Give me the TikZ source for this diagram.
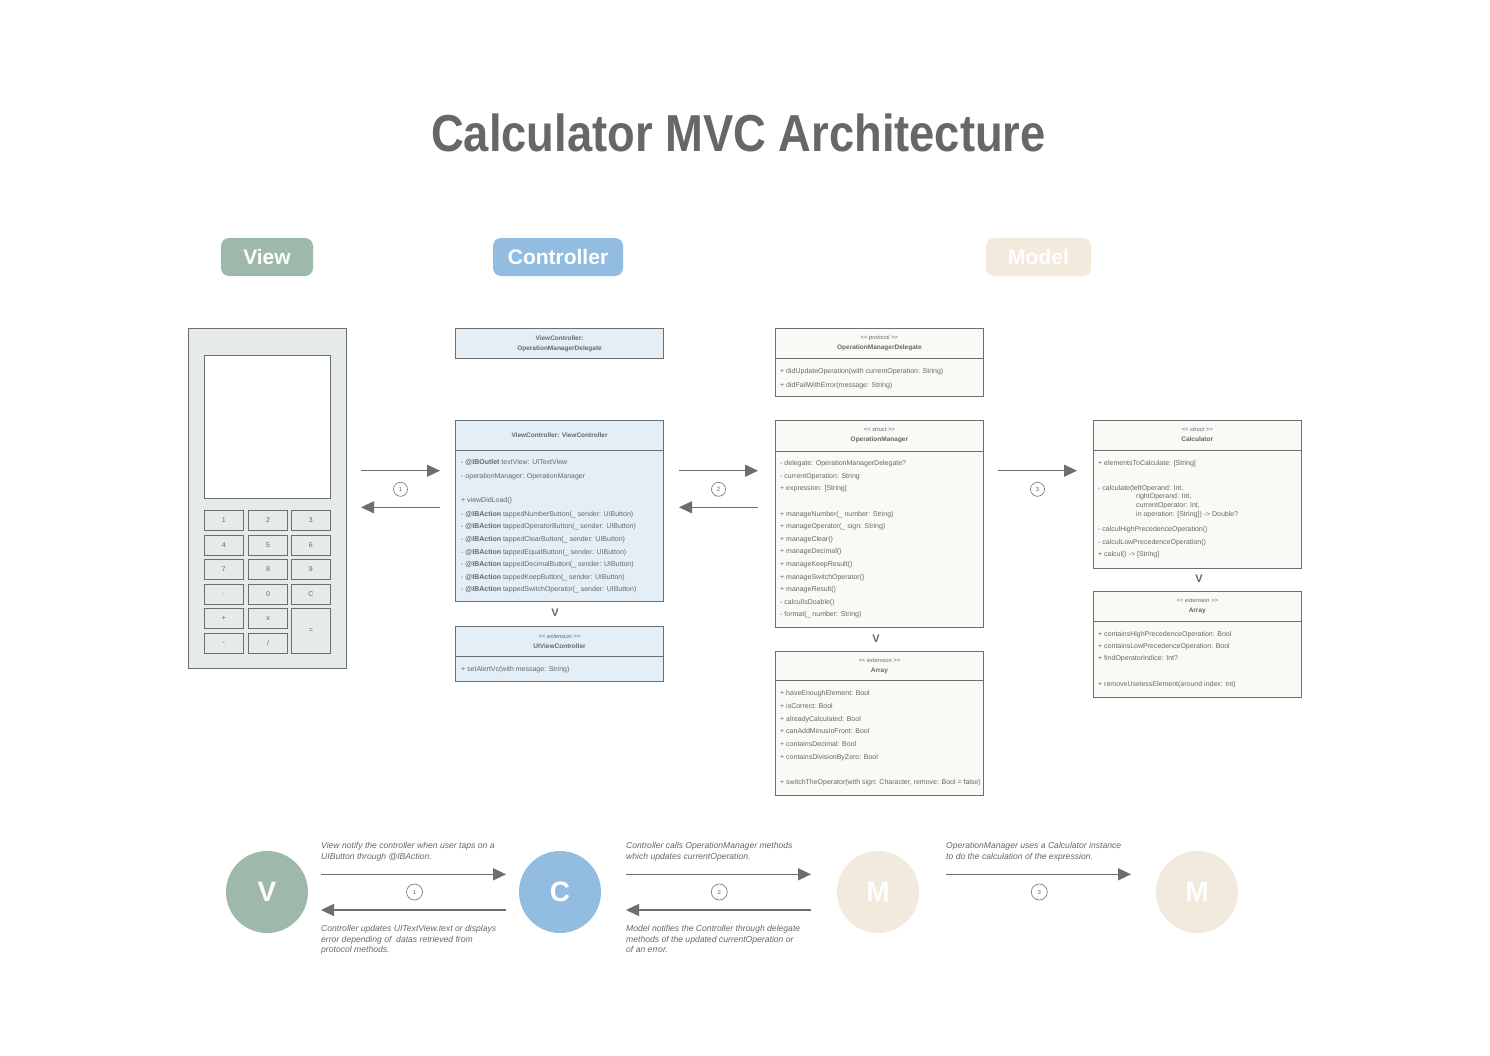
\documentclass[tikz,border=0pt]{standalone}
\usepackage{fontspec}
\setmainfont{Liberation Sans}
\usetikzlibrary{arrows.meta}
\usetikzlibrary{positioning}

\definecolor{viewgreen}{HTML}{9EB8AA}
\definecolor{ctrlblue}{HTML}{93BDE0}
\definecolor{modelbeige}{HTML}{F2EADD}
\definecolor{ctrlfill}{HTML}{E4EEF7}
\definecolor{modelfill}{HTML}{FAF9F5}
\definecolor{phonefill}{HTML}{E5EBE7}
\definecolor{linegray}{HTML}{6E6E6E}
\definecolor{textgray}{HTML}{676767}

\newcommand{\stereo}[1]{{\mdseries\itshape\fontsize{5.8}{10}\selectfont <{}< #1 >{}>}}

\tikzset{
    umlbox/.style={rectangle, anchor=north west, draw=linegray, line width=0.8pt, inner sep=0pt},
    ctrlbox/.style={umlbox, fill=ctrlfill},
    modelbox/.style={umlbox, fill=modelfill},
    divider/.style={draw=linegray, line width=0.8pt},
    headtext/.style={align=center, inner sep=0pt, text=textgray,
        font=\fontsize{6.5}{10}\selectfont\bfseries},
    member/.style={anchor=west, inner sep=0pt, text=textgray,
        text height=5pt, text depth=1.5pt, font=\fontsize{7}{8}\selectfont},
    vee/.style={inner sep=0pt, text=textgray, font=\fontsize{11}{12}\selectfont\bfseries},
    flow/.style={draw=linegray, line width=1.1pt, -{Triangle[length=13pt,width=12pt]}},
    bigflow/.style={draw=linegray, line width=1.6pt, -{Triangle[length=13pt,width=12pt]}},
    stepnum/.style={circle, draw=linegray, line width=0.6pt, minimum size=14pt, inner sep=0pt,
        text=textgray, font=\fontsize{6}{7}\selectfont},
    pill/.style={rectangle, rounded corners=8pt, minimum height=38pt, inner sep=0pt,
        text=white, font=\fontsize{21}{24}\selectfont\bfseries},
    bigdot/.style={circle, minimum size=82pt, inner sep=0pt,
        text=white, font=\fontsize{28}{30}\selectfont\bfseries},
    key/.style={rectangle, anchor=north west, draw=linegray, line width=0.6pt, fill=phonefill,
        minimum width=39pt, minimum height=19.5pt, inner sep=0pt,
        text=textgray, font=\fontsize{7}{8}\selectfont},
    note/.style={anchor=north west, align=left, inner sep=0pt, text=textgray,
        font=\fontsize{8.6}{10.3}\selectfont\itshape},
}

\begin{document}
\begin{tikzpicture}[x=1pt, y=-1pt]
    \useasboundingbox[fill=white] (0,0) rectangle (1490,1055);

    % title and column headers
    \node (title) at (738.5,151) [anchor=base, text=textgray]
        {\scalebox{0.872}[1]{\fontsize{52}{60}\selectfont\bfseries Calculator MVC Architecture}};
    \node (viewpill) at (267,257) [pill, fill=viewgreen, minimum width=92pt] {View};
    \node (ctrlpill) at (558,257) [pill, fill=ctrlblue, minimum width=130pt] {Controller};
    \node (modelpill) at (1038.5,257) [pill, fill=modelbeige, minimum width=105pt] {Model};

    % the phone
    \node (phone) at (188,328.3) [umlbox, fill=phonefill, minimum width=157.5pt, minimum height=340pt] {};
    \node (screen) at (204,355) [umlbox, fill=white, minimum width=125.7pt, minimum height=143.3pt] {};
    \foreach \kx/\ky/\klabel [count=\k] in {
        204/510/1, 248.3/510/2, 291/510/3,
        204/535/4, 248.3/535/5, 291/535/6,
        204/559.3/7, 248.3/559.3/8, 291/559.3/9,
        204/584.3/., 248.3/584.3/0, 291/584.3/C,
        204/608.3/+, 248.3/608.3/x, 204/633.3/-}
        \node (key-\k) at (\kx,\ky) [key] {\klabel};
    \node (key-slash) at (248.3,633.3) [key] {/};
    \node (key-equal) at (291,608.3) [key, minimum height=45pt] {=};

    % controller
    \node (vcomd) at (455,328.3) [ctrlbox, minimum width=208.3pt, minimum height=30pt] {};
    \node (vcomdhead) at (vcomd.center) [headtext] {ViewController:\\OperationManagerDelegate};

    \node (vcmain) at (455,420) [ctrlbox, minimum width=208.3pt, minimum height=180.5pt] {};
    \draw[divider] ([yshift=-30.7pt]vcmain.north west) -- ([yshift=-30.7pt]vcmain.north east);
    \node (vcmainhead) at ([yshift=-15.3pt]vcmain.north) [headtext] {ViewController: ViewController};
    \foreach \yy/\txt [count=\i] in {
        462.7/{- \textbf{@IBOutlet} textView: UITextView},
        476.7/{- operationManager: OperationManager},
        500.7/{+ viewDidLoad()},
        515/{- \textbf{@IBAction} tappedNumberButton(\_ sender: UIButton)},
        526.7/{- \textbf{@IBAction} tappedOperatorButton(\_ sender: UIButton)},
        539.3/{- \textbf{@IBAction} tappedClearButton(\_ sender: UIButton)},
        552.3/{- \textbf{@IBAction} tappedEqualButton(\_ sender: UIButton)},
        564.3/{- \textbf{@IBAction} tappedDecimalButton(\_ sender: UIButton)},
        577.3/{- \textbf{@IBAction} tappedKeepButton(\_ sender: UIButton)},
        589.3/{- \textbf{@IBAction} tappedSwitchOperator(\_ sender: UIButton)}}
        \node (vcm-\i) at (461,\yy) [member] {\txt};

    \node (vcv) at (555,613) [vee] {V};

    \node (uivc) at (455,625.7) [ctrlbox, minimum width=208.3pt, minimum height=55.3pt] {};
    \draw[divider] ([yshift=-31pt]uivc.north west) -- ([yshift=-31pt]uivc.north east);
    \node (uivchead) at ([yshift=-15.5pt]uivc.north) [headtext] {\stereo{extension}\\UIViewController};
    \node (uivcm-1) at (461,669.3) [member] {+ setAlertVc(with message: String)};

    % model
    \node (omd) at (775,328.3) [modelbox, minimum width=208pt, minimum height=67.7pt] {};
    \draw[divider] ([yshift=-30pt]omd.north west) -- ([yshift=-30pt]omd.north east);
    \node (omdhead) at ([yshift=-15pt]omd.north) [headtext] {\stereo{protocol}\\OperationManagerDelegate};
    \node (omdm-1) at (780,371.3) [member] {+ didUpdateOperation(with currentOperation: String)};
    \node (omdm-2) at (780,385.3) [member] {+ didFailWithError(message: String)};

    \node (om) at (775,420) [modelbox, minimum width=208pt, minimum height=207.3pt] {};
    \draw[divider] ([yshift=-31pt]om.north west) -- ([yshift=-31pt]om.north east);
    \node (omhead) at ([yshift=-15.5pt]om.north) [headtext] {\stereo{struct}\\OperationManager};
    \foreach \yy/\txt [count=\i] in {
        463.3/{- delegate: OperationManagerDelegate?},
        476.7/{- currentOperation: String},
        489/{+ expression: [String]},
        515/{+ manageNumber(\_ number: String)},
        526.7/{+ manageOperator(\_ sign: String)},
        539.3/{+ manageClear()},
        551.7/{+ manageDecimal()},
        564.3/{+ manageKeepResult()},
        577.3/{+ manageSwitchOperator()},
        590/{+ manageResult()},
        602.7/{- calculIsDoable()},
        615/{- format(\_ number: String)}}
        \node (omm-\i) at (780,\yy) [member] {\txt};

    \node (omv) at (876,638.5) [vee] {V};

    \node (omarr) at (775,650.7) [modelbox, minimum width=208pt, minimum height=144.3pt] {};
    \draw[divider] ([yshift=-30pt]omarr.north west) -- ([yshift=-30pt]omarr.north east);
    \node (omarrhead) at ([yshift=-15pt]omarr.north) [headtext] {\stereo{extension}\\Array};
    \foreach \yy/\txt [count=\i] in {
        693.3/{+ haveEnoughElement: Bool},
        706.7/{+ isCorrect: Bool},
        719.5/{+ alreadyCalculated: Bool},
        731.5/{+ canAddMinusInFront: Bool},
        744.3/{+ containsDecimal: Bool},
        757.5/{+ containsDivisionByZero: Bool},
        783/{+ switchTheOperator(with sign: Character, remove: Bool = false)}}
        \node (omarrm-\i) at (780,\yy) [member] {\txt};

    \node (calc) at (1093,420) [modelbox, minimum width=207.7pt, minimum height=147.7pt] {};
    \draw[divider] ([yshift=-30pt]calc.north west) -- ([yshift=-30pt]calc.north east);
    \node (calchead) at ([yshift=-15pt]calc.north) [headtext] {\stereo{struct}\\Calculator};
    \foreach \yy/\txt [count=\i] in {
        464/{+ elementsToCalculate: [String]},
        488.3/{- calculate(leftOperand: Int,},
        530/{- calculHighPrecedenceOperation()},
        542.3/{- calculLowPrecedenceOperation()},
        555/{+ calcul() -> [String]}}
        \node (calcm-\i) at (1098,\yy) [member] {\txt};
    \foreach \yy/\txt [count=\i] in {
        497/{rightOperand: Int,},
        505.7/{currentOperator: Int,},
        514.3/{in operation: [String]) -> Double?}}
        \node (calcarg-\i) at (1136,\yy) [member] {\txt};

    \node (calcv) at (1199,578.3) [vee] {V};

    \node (calcarr) at (1093,590.7) [modelbox, minimum width=207.7pt, minimum height=106pt] {};
    \draw[divider] ([yshift=-31pt]calcarr.north west) -- ([yshift=-31pt]calcarr.north east);
    \node (calcarrhead) at ([yshift=-15.5pt]calcarr.north) [headtext] {\stereo{extension}\\Array};
    \foreach \yy/\txt [count=\i] in {
        634.3/{+ containsHighPrecedenceOperation: Bool},
        646.7/{+ containsLowPrecedenceOperation: Bool},
        659/{+ findOperatorIndice: Int?},
        685/{+ removeUselessElement(around index: Int)}}
        \node (calcarrm-\i) at (1098,\yy) [member] {\txt};

    % flows between the columns
    \coordinate (v2c-a) at (361,470.7);
    \coordinate (v2c-b) at (440,470.7);
    \coordinate (c2v-a) at (440,507.3);
    \coordinate (c2v-b) at (361,507.3);
    \draw[flow] (v2c-a) -- (v2c-b);
    \draw[flow] (c2v-a) -- (c2v-b);
    \node (step-1) at (400.5,489.3) [stepnum] {1};

    \coordinate (c2m-a) at (679,470.7);
    \coordinate (c2m-b) at (758,470.7);
    \coordinate (m2c-a) at (758,507.3);
    \coordinate (m2c-b) at (679,507.3);
    \draw[flow] (c2m-a) -- (c2m-b);
    \draw[flow] (m2c-a) -- (m2c-b);
    \node (step-2) at (718.5,489.3) [stepnum] {2};

    \coordinate (m2m-a) at (998,470.7);
    \coordinate (m2m-b) at (1077,470.7);
    \draw[flow] (m2m-a) -- (m2m-b);
    \node (step-3) at (1037.5,489.3) [stepnum] {3};

    % legend row
    \node (vdot) at (267,892) [bigdot, fill=viewgreen] {V};
    \node (cdot) at (560,892) [bigdot, fill=ctrlblue] {C};
    \node (mdot) at (878,892) [bigdot, fill=modelbeige] {M};
    \node (calcdot) at (1197,892) [bigdot, fill=modelbeige] {M};

    \coordinate (lv2c-a) at (321,874.3);
    \coordinate (lv2c-b) at (506,874.3);
    \coordinate (lc2v-a) at (506,910);
    \coordinate (lc2v-b) at (321,910);
    \draw[bigflow] (lv2c-a) -- (lv2c-b);
    \draw[bigflow] (lc2v-a) -- (lc2v-b);
    \node (lstep-1) at (414.5,892) [stepnum, minimum size=16pt] {1};
    \node (lnote-1a) at (321,842.5) [note]
        {View notify the controller when user taps on a\\UIButton through @IBAction.};
    \node (lnote-1b) at (321,925.5) [note]
        {Controller updates UITextView.text or displays\\error depending of \ datas retrieved from\\protocol methods.};

    \coordinate (lc2m-a) at (626,874.3);
    \coordinate (lc2m-b) at (811,874.3);
    \coordinate (lm2c-a) at (811,910);
    \coordinate (lm2c-b) at (626,910);
    \draw[bigflow] (lc2m-a) -- (lc2m-b);
    \draw[bigflow] (lm2c-a) -- (lm2c-b);
    \node (lstep-2) at (719.3,892) [stepnum, minimum size=16pt] {2};
    \node (lnote-2a) at (626,842.5) [note]
        {Controller calls OperationManager methods\\which updates currentOperation.};
    \node (lnote-2b) at (626,925.5) [note]
        {Model notifies the Controller through delegate\\methods of the updated currentOperation or\\of an error.};

    \coordinate (lm2m-a) at (946,874.3);
    \coordinate (lm2m-b) at (1131,874.3);
    \draw[bigflow] (lm2m-a) -- (lm2m-b);
    \node (lstep-3) at (1039.3,892) [stepnum, minimum size=16pt] {3};
    \node (lnote-3a) at (946,842.5) [note]
        {OperationManager uses a Calculator instance\\to do the calculation of the expression.};
\end{tikzpicture}
\end{document}
